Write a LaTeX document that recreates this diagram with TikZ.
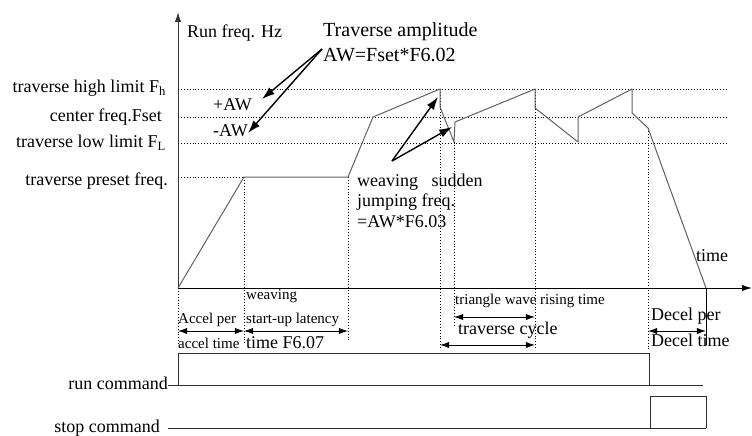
\documentclass[tikz,border=0pt]{standalone}
\usepackage{fontspec}
\setmainfont{Liberation Serif}
\usetikzlibrary{arrows.meta}

\begin{document}
\begin{tikzpicture}[
  x=1pt,y=-1pt,
  lbl/.style={inner sep=0pt,font=\fontsize{18}{20}\selectfont},
  big/.style={inner sep=0pt,font=\fontsize{20}{23}\selectfont},
  sml/.style={inner sep=0pt,font=\fontsize{15}{17}\selectfont},
  wave/.style={gray!75!black,line width=1pt,line join=round},
  guide/.style={dotted,line width=0.9pt},
  axis/.style={line width=1pt,gray!40!black,-{Latex[length=3.5mm,width=2.2mm]}},
  ptr/.style={line width=1.4pt,-{Latex[length=4.5mm,width=3mm]}},
  span/.style={line width=0.9pt,{Latex[length=3.2mm,width=2.2mm]}-{Latex[length=3.2mm,width=2.2mm]}},
  sig/.style={gray!35!black,line width=0.9pt}
]
  \useasboundingbox (0,0) rectangle (752,436);

  % axes
  \coordinate (O) at (178,288);
  \coordinate (Ytop) at (178,12);
  \coordinate (Tend) at (752,288);
  \draw[axis] (O) -- (Ytop);
  \draw[axis,black] (O) -- (Tend);

  % waveform corners
  \coordinate (A) at (244,177);
  \coordinate (B) at (348,177);
  \coordinate (C) at (373,117);
  \coordinate (P1) at (440,89);
  \coordinate (P1b) at (440,107);
  \coordinate (L1) at (454,142);
  \coordinate (J1) at (455,122);
  \coordinate (P2) at (535,89);
  \coordinate (P2b) at (535,108);
  \coordinate (L2) at (578,142);
  \coordinate (J2) at (578,117);
  \coordinate (P3) at (632,89);
  \coordinate (P3b) at (632,113);
  \coordinate (D) at (648,128);
  \coordinate (E) at (706,288);

  % level lines
  \draw[guide] (178,89) -- (727,89);
  \draw[guide] (178,117) -- (727,117);
  \draw[guide] (178,143) -- (727,143);
  \draw[guide] (178,177) -- (A);

  % drop lines
  \draw[guide] (O) -- (178,345);
  \draw[guide] (A) -- (244,345);
  \draw[guide] (B) -- (348,340);
  \draw[guide] (P1) -- (440,350);
  \draw[guide] (L1) -- (454,325);
  \draw[guide] (P2) -- (535,350);
  \draw[guide] (D) -- (648,350);
  \draw[line width=0.9pt] (E) -- (706,345);

  \draw[wave] (O) -- (A) -- (B) -- (C) -- (P1) -- (P1b) -- (L1) -- (J1) -- (P2)
    -- (P2b) -- (L2) -- (J2) -- (P3) -- (P3b) -- (D) -- (E);

  % labels on the left
  \node[lbl,anchor=east] (Fh) at (166,88) {traverse high limit F\textsubscript{h}};
  \node[lbl,anchor=east] (Fs) at (162,117) {center freq.Fset};
  \node[lbl,anchor=east] (Fl) at (166,143) {traverse low limit F\textsubscript{L}};
  \node[lbl,anchor=east] (Fp) at (168,181) {traverse preset freq.};

  \node[lbl,anchor=west] (Hz) at (187,33) {Run freq. Hz};
  \node[big,anchor=west] (Amp1) at (323,32) {Traverse amplitude};
  \node[big,anchor=west] (Amp2) at (323,55) {AW=Fset*F6.02};
  \node[lbl,anchor=west] (Pw) at (213,105) {+AW};
  \node[lbl,anchor=west] (Mw) at (213,131) {-AW};
  \node[lbl,anchor=west] (Jmp1) at (357,182) {weaving\hspace{0.5em} sudden};
  \node[lbl,anchor=west] (Jmp2) at (357,202) {jumping freq.};
  \node[lbl,anchor=west] (Jmp3) at (357,222) {=AW*F6.03};
  \node[lbl,anchor=west] (Tm) at (696,256) {time};

  \coordinate (Ap) at (322,49);
  \draw[ptr] (Ap) -- (262,99);
  \draw[ptr] (Ap) -- (248,133);
  \coordinate (Wv) at (392,161);
  \draw[ptr] (Wv) -- (438,97);
  \draw[ptr] (Wv) -- (452,127);

  % time spans
  \draw[span] (178,331) -- (244,331);
  \draw[span] (244,331) -- (348,331);
  \draw[span] (454,317) -- (535,317);
  \draw[span] (440,345) -- (535,345);
  \draw[span] (648,331) -- (706,331);

  \node[sml,anchor=west] (Acc1) at (178,320) {Accel per};
  \node[sml,anchor=west] (Acc2) at (178,343) {accel time};
  \node[sml,anchor=west] (Lat1) at (246,296) {weaving};
  \node[sml,anchor=west] (Lat2) at (246,320) {start-up latency};
  \node[lbl,anchor=west] (Lat3) at (246,343) {time F6.07};
  \node[sml,anchor=west] (Rise) at (455,301) {triangle wave rising time};
  \node[lbl,anchor=west] (Cyc) at (458,330) {traverse cycle};
  \node[lbl,anchor=west] (Dec1) at (651,316) {Decel per};
  \node[lbl,anchor=west] (Dec2) at (651,340) {Decel time};

  % command signals
  \node[lbl,anchor=east] (Run) at (168,383) {run command};
  \node[lbl,anchor=east] (Stp) at (160,428) {stop command};
  \draw[sig] (Run.east) ++(0,2) -- (703,385);
  \draw[sig] (178,385) -- (178,353) -- (649,353) -- (649,385);
  \draw[sig] (168,428) -- (706,428);
  \draw[sig] (650,428) -- (650,396) -- (706,396) -- (706,428);
\end{tikzpicture}
\end{document}
